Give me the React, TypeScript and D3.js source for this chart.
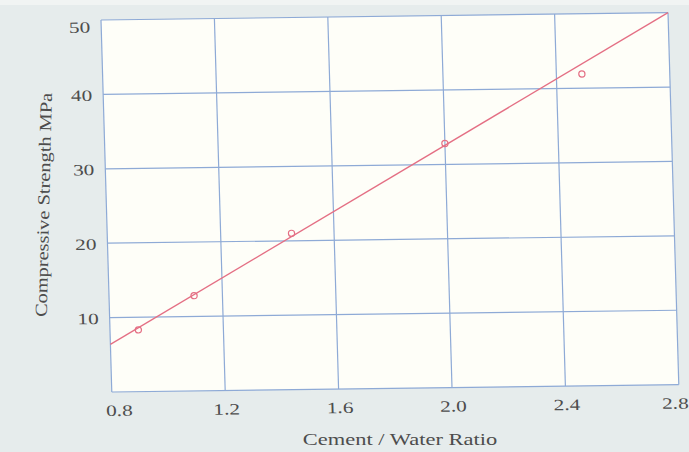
import React from "react";
import * as d3 from "d3";

// Data
const ratios = [0.9, 1.1, 1.45, 2.0, 2.49];
const strengths = [8.3, 12.8, 21.0, 32.8, 41.9];
const fitRatios = [0.8, 2.8];
const fitStrengths = [6.4, 50];
const xTicks = [0.8, 1.2, 1.6, 2.0, 2.4, 2.8];
const yTicks = [10, 20, 30, 40, 50];
const xTitle = "Cement / Water Ratio";
const yTitle = "Compressive Strength MPa";

const W = 689;
const H = 452;
const L = 101, R = 668, T = 20, B = 392;
const skewA = 0.029;
const skewB = -0.013;
const FONT = "'Liberation Serif', 'Times New Roman', serif";
const GRID = "#8eaad6";
const RED = "#e46f84";
const TEXT = "#4d4d4d";

export default function App() {
  const x = d3.scaleLinear().domain([0.8, 2.8]).range([L, R]);
  const y = d3.scaleLinear().domain([0, 50]).range([B, T]);
  const fmt = d3.format(".1f");
  const fitLine = d3
    .line<number>()
    .x((d) => x(d))
    .y((_, i) => y(fitStrengths[i]));

  const xShift = (i: number) => (i === 0 ? 7 : i === xTicks.length - 1 ? -4 : 1);

  return (
    <svg
      width={W}
      height={H}
      style={{ position: "absolute", left: 0, top: 0 }}
      xmlns="http://www.w3.org/2000/svg"
    >
      <rect x={0} y={0} width={W} height={H} fill="#e6ecec" />
      <rect x={0} y={0} width={W} height={5} fill="#f1f4f3" />
      <g transform={`translate(${L},${T}) matrix(1,${skewB},${skewA},1,0,0) translate(${-L},${-T})`}>
        <rect x={L} y={T} width={R - L} height={B - T} fill="#fefef8" />
        {xTicks.map((v) => (
          <line key={"gx" + v} x1={x(v)} x2={x(v)} y1={T} y2={B} stroke={GRID} strokeWidth={1.2} />
        ))}
        {[0, ...yTicks].map((v) => (
          <line key={"gy" + v} x1={L} x2={R} y1={y(v)} y2={y(v)} stroke={GRID} strokeWidth={1.2} />
        ))}
        <path d={fitLine(fitRatios) || ""} fill="none" stroke={RED} strokeWidth={1.3} />
        {ratios.map((r, i) => (
          <circle
            key={"p" + i}
            cx={x(r)}
            cy={y(strengths[i])}
            r={3.1}
            fill="none"
            stroke={RED}
            strokeWidth={1.2}
          />
        ))}
        {yTicks.map((v, i) => (
          <g key={"ty" + v} transform={`translate(90,${y(v) + (i === yTicks.length - 1 ? 7 : 0.8)}) scale(1.35,1)`}>
            <text
              x={0}
              y={0}
              textAnchor="end"
              dominantBaseline="central"
              fontFamily={FONT}
              fontSize={15.8}
              fill={TEXT}
            >
              {v}
            </text>
          </g>
        ))}
        {xTicks.map((v, i) => (
          <g key={"tx" + v} transform={`translate(${x(v) + xShift(i)},416) scale(1.35,1)`}>
            <text x={0} y={0} textAnchor="middle" fontFamily={FONT} fontSize={15.8} fill={TEXT}>
              {fmt(v)}
            </text>
          </g>
        ))}
      </g>
      <g transform="translate(400,445) scale(1.27,1)">
        <text x={0} y={0} textAnchor="middle" fontFamily={FONT} fontSize={17.7} fill={TEXT}>
          {xTitle}
        </text>
      </g>
      <g transform="translate(49.3,205) rotate(-88.7) scale(1.2,1)">
        <text x={0} y={0} textAnchor="middle" fontFamily={FONT} fontSize={17} fill={TEXT}>
          {yTitle}
        </text>
      </g>
    </svg>
  );
}
